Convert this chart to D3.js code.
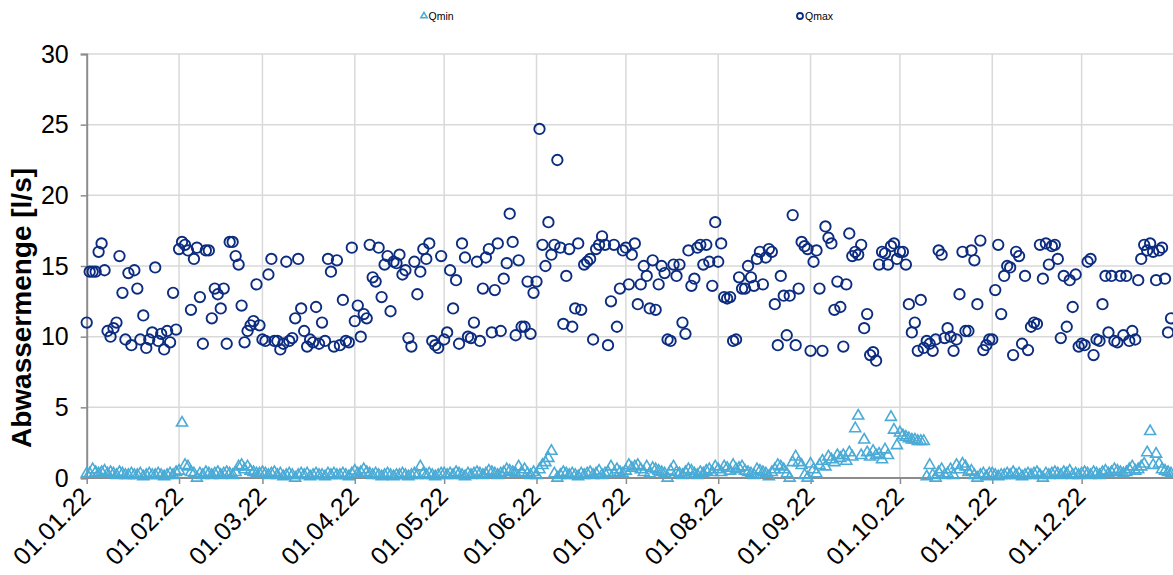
<!DOCTYPE html>
<html>
<head>
<meta charset="utf-8">
<script src="https://cdn.jsdelivr.net/npm/d3@7"></script>
<style>
  body { margin: 0; background: #fff; }
  text { font-family: "Liberation Sans", Arial, sans-serif; }
</style>
</head>
<body>
<svg id="chart" width="1173" height="575"></svg>
<script>
// daily Qmax [l/s], one array per month
const qmaxJan = [11.0,14.6,14.6,14.6,16.0,16.6,14.7,10.4,10.0,10.6,11.0,15.7,13.1,9.8,14.5,9.4,14.7,13.4,9.8,11.5,9.2,9.8,10.3,14.9,9.7,10.2,9.1,10.4,9.6,13.1,10.5]
const qmaxFeb = [16.2,16.7,16.5,16.1,11.9,15.5,16.3,12.8,9.5,16.1,16.1,11.3,13.4,13.0,12.0,13.4,9.5,16.7,16.7,15.7,15.1,12.2,9.6,10.4,10.8,11.1,13.7,10.8]
const qmaxMar = [9.8,9.7,14.4,15.5,9.7,9.7,9.1,9.5,15.3,9.7,9.9,11.3,15.5,12.0,10.4,9.3,9.8,9.6,12.1,9.5,11.0,9.7,15.5,14.6,9.3,15.4,9.4,12.6,9.7,9.6,16.3]
const qmaxApr = [11.1,12.2,10.0,11.6,11.3,16.5,14.2,13.9,16.3,12.8,15.1,15.7,11.8,15.3,15.2,15.8,14.4,14.7,9.9,9.3,15.3,13.0,14.6,16.2,15.5,16.6,9.7,9.4,9.2,15.7]
const qmaxMay = [9.8,10.3,14.7,12.0,14.0,9.5,16.6,15.6,10.0,9.9,11.0,15.3,9.7,13.4,15.6,16.2,10.3,13.3,16.6,10.4,14.1,15.2,18.7,16.7,10.1,15.4,10.7,10.7,13.9,10.2,13.1]
const qmaxJun = [13.9,24.7,16.5,15.0,18.1,15.8,16.5,22.5,16.3,10.9,14.3,16.2,10.7,12.0,16.6,11.9,15.1,15.3,15.5,9.8,16.2,16.5,17.1,16.5,9.4,12.5,16.5,10.7,13.4,16.1]
const qmaxJul = [16.3,13.7,15.8,16.6,12.3,13.7,15.0,14.3,12.0,15.4,11.9,13.7,15.0,14.5,9.8,9.7,15.1,14.3,15.1,11.0,10.2,16.1,13.6,14.1,16.3,16.5,15.1,16.5,15.3,13.6,18.1]
const qmaxAug = [15.3,16.6,12.8,12.7,12.8,9.7,9.8,14.2,13.4,13.4,15.0,14.2,13.6,15.5,16.0,13.7,15.6,16.2,16.0,12.3,9.4,14.3,12.9,10.1,12.9,18.6,9.4,13.4,16.7,16.4,16.2]
const qmaxSep = [9.0,15.3,16.1,13.4,9.0,17.8,17.0,16.6,11.9,13.9,12.1,9.3,13.7,17.3,15.7,16.0,15.8,16.5,10.6,11.6,8.7,8.9,8.3,15.1,16.0,15.9,15.1,16.4,16.6,15.5]
const qmaxOct = [16.0,16.0,15.1,12.3,10.3,11.0,9.0,12.6,9.2,9.7,9.5,9.0,9.8,16.1,15.8,9.9,10.6,10.0,9.0,9.8,13.0,16.0,10.4,10.4,16.1,15.4,12.3,16.8,9.05,9.4,9.8]
const qmaxNov = [9.8,13.3,16.5,11.6,14.3,15.0,14.9,8.7,16.0,15.7,9.5,14.3,9.05,10.7,11.0,10.9,16.5,14.1,16.6,15.1,16.4,16.5,15.5,9.9,14.3,10.7,14.0,12.1,14.4,9.3]
const qmaxDec = [9.5,9.4,15.3,15.5,8.7,9.8,9.7,12.3,14.3,10.3,14.3,9.7,9.6,14.3,10.1,14.3,9.7,10.4,9.8,14.0,15.5,16.5,16.1,16.6,16.0,14.0,16.1,16.3,14.1,10.3,11.3]

// daily Qmin [l/s], one array per month
const qminJan = [0.3,0.3,0.6,0.4,0.3,0.4,0.5,0.3,0.4,0.3,0.2,0.4,0.3,0.2,0.2,0.3,0.2,0.2,0.3,0.1,0.2,0.3,0.2,0.2,0.3,0.2,0.1,0.2,0.3,0.2,0.4]
const qminFeb = [0.5,3.9,0.9,0.8,0.4,0.3,0.0,0.3,0.2,0.4,0.3,0.2,0.3,0.4,0.2,0.3,0.4,0.3,0.2,0.4,0.8,0.9,0.6,0.8,0.5,0.4,0.3,0.3]
const qminMar = [0.4,0.3,0.2,0.3,0.4,0.2,0.3,0.1,0.2,0.3,0.2,0.0,0.2,0.3,0.2,0.3,0.1,0.2,0.3,0.2,0.2,0.1,0.3,0.2,0.3,0.2,0.2,0.3,0.2,0.1,0.3]
const qminApr = [0.5,0.3,0.4,0.6,0.4,0.3,0.2,0.3,0.2,0.1,0.2,0.3,0.2,0.1,0.2,0.2,0.3,0.2,0.1,0.2,0.3,0.2,0.8,0.3,0.2,0.3,0.2,0.1,0.2,0.3]
const qminMay = [0.3,0.2,0.3,0.2,0.4,0.3,0.2,0.1,0.3,0.2,0.3,0.4,0.3,0.2,0.3,0.5,0.4,0.3,0.2,0.3,0.4,0.6,0.5,0.4,0.3,0.8,0.4,0.6,0.3,0.2,0.4]
const qminJun = [0.2,0.6,0.9,1.1,1.4,1.9,0.3,0.0,0.2,0.4,0.3,0.2,0.3,0.2,0.1,0.3,0.2,0.3,0.4,0.2,0.3,0.5,0.2,0.3,0.4,0.8,0.3,0.6,0.4,0.3]
const qminJul = [0.5,0.9,0.7,0.8,0.9,0.6,0.4,0.8,0.3,0.7,0.6,0.5,0.4,0.3,0.0,0.5,0.8,0.4,0.3,0.2,0.4,0.6,0.5,0.3,0.2,0.4,0.3,0.5,0.6,0.4,0.8]
const qminAug = [0.6,0.4,0.8,0.7,0.5,0.9,0.6,0.7,0.8,0.5,0.4,0.3,0.2,0.6,0.5,0.4,0.3,0.1,0.4,0.6,0.9,0.8,0.6,0.3,0.0,1.1,1.5,1.1,0.9,0.2,0.0]
const qminSep = [1.0,0.6,0.3,0.9,1.2,0.8,1.5,1.3,1.1,1.6,1.4,1.6,1.2,1.8,1.5,3.5,4.4,1.6,2.7,1.8,1.5,1.9,1.6,1.7,1.3,2.0,1.6,4.3,3.4,2.3]
const qminOct = [3.2,3.0,2.9,2.8,2.7,2.7,2.6,2.6,2.6,0.1,0.9,0.2,0.0,0.4,0.6,0.2,0.3,0.6,0.2,0.9,0.6,1.0,0.8,0.4,0.5,0.2,0.0,0.2,0.3,0.1,0.3]
const qminNov = [0.3,0.2,0.1,0.2,0.2,0.3,0.2,0.4,0.2,0.3,0.1,0.2,0.3,0.2,0.3,0.4,0.2,0.0,0.3,0.2,0.3,0.4,0.3,0.2,0.4,0.3,0.5,0.2,0.3,0.2]
const qminDec = [0.3,0.4,0.3,0.2,0.4,0.3,0.2,0.4,0.5,0.3,0.4,0.6,0.5,0.4,0.3,0.4,0.6,0.8,0.5,0.6,0.8,1.0,1.8,3.3,0.9,1.7,1.0,0.6,0.5,0.4,0.3]

const yTicks = [0, 5, 10, 15, 20, 25, 30]
const yTitle = 'Abwassermenge [l/s]'
const seriesNames = ['Qmin', 'Qmax']

const qmax = [].concat(qmaxJan, qmaxFeb, qmaxMar, qmaxApr, qmaxMay, qmaxJun,
                       qmaxJul, qmaxAug, qmaxSep, qmaxOct, qmaxNov, qmaxDec)
const qmin = [].concat(qminJan, qminFeb, qminMar, qminApr, qminMay, qminJun,
                       qminJul, qminAug, qminSep, qminOct, qminNov, qminDec)

const days = d3.timeDays(new Date(2022, 0, 1), new Date(2023, 0, 1))
const months = d3.timeMonths(new Date(2022, 0, 1), new Date(2023, 0, 1))

const minColor = '#4aabd6',
      maxColor = '#0c2c80',
      gridColor = '#d9d9d9',
      axisColor = '#8c8c8c'

const plot = { left: 86.7, right: 1171, top: 54, bottom: 478 }

const x = d3.scaleTime()
    .domain([days[0], days[days.length - 1]])
    .range([plot.left, plot.right])

const y = d3.scaleLinear()
    .domain([0, 30])
    .range([plot.bottom, plot.top])

const svg = d3.select('#chart')

// grid
svg.append('g')
    .selectAll('line')
    .data(yTicks.slice(1))
    .enter().append('line')
    .attr('x1', plot.left).attr('x2', 1173)
    .attr('y1', d => y(d)).attr('y2', d => y(d))
    .attr('stroke', gridColor)
    .attr('stroke-width', 1.5)

svg.append('g')
    .selectAll('line')
    .data(months.slice(1))
    .enter().append('line')
    .attr('x1', d => x(d)).attr('x2', d => x(d))
    .attr('y1', plot.top).attr('y2', plot.bottom)
    .attr('stroke', gridColor)
    .attr('stroke-width', 1.5)

// axes
const yAxis = svg.append('g')
    .attr('transform', `translate(${plot.left},0)`)
    .call(d3.axisLeft(y).tickValues(yTicks).tickSize(6).tickPadding(12))

const xAxis = svg.append('g')
    .attr('transform', `translate(0,${plot.bottom})`)
    .call(d3.axisBottom(x).tickValues(months).tickSize(6)
        .tickFormat(d3.timeFormat('%d.%m.%y')))

xAxis.select('.domain').attr('d', `M${plot.left},0H1173`)

for (const ax of [yAxis, xAxis]) {
  ax.select('.domain').attr('stroke', axisColor).attr('stroke-width', 2)
  ax.selectAll('.tick line').attr('stroke', axisColor).attr('stroke-width', 1.5)
  ax.selectAll('.tick text')
      .attr('fill', '#000')
      .style('font-size', '25px')
}

xAxis.selectAll('.tick text')
    .attr('x', 5).attr('y', 20).attr('dy', 0)
    .attr('text-anchor', 'end')
    .attr('transform', 'rotate(-45, 5, 20)')

svg.append('text')
    .attr('transform', 'translate(31, 308) rotate(-90)')
    .attr('text-anchor', 'middle')
    .style('font-size', '28px')
    .style('font-weight', 'bold')
    .text(yTitle)

// Qmin triangles
const tri = d3.symbol(d3.symbolTriangle, 52)

svg.append('g')
    .selectAll('path')
    .data(days.map((d, i) => ({ date: d, v: qmin[i] })))
    .enter().append('path')
    .attr('d', tri)
    .attr('transform', d => `translate(${x(d.date)},${y(d.v)})`)
    .attr('fill', 'none')
    .attr('stroke', minColor)
    .attr('stroke-width', 1.6)

// Qmax circles
svg.append('g')
    .selectAll('circle')
    .data(days.map((d, i) => ({ date: d, v: qmax[i] })))
    .enter().append('circle')
    .attr('cx', d => x(d.date))
    .attr('cy', d => y(d.v))
    .attr('r', 5.2)
    .attr('fill', 'none')
    .attr('stroke', maxColor)
    .attr('stroke-width', 1.9)

// legend
const legend = svg.append('g').style('font-size', '10.5px')

legend.append('path')
    .attr('d', d3.symbol(d3.symbolTriangle, 18))
    .attr('transform', 'translate(424,16)')
    .attr('fill', 'none').attr('stroke', minColor).attr('stroke-width', 1.5)
legend.append('text').attr('x', 428.5).attr('y', 19.5).text(seriesNames[0])

legend.append('circle')
    .attr('cx', 800).attr('cy', 16).attr('r', 3)
    .attr('fill', 'none').attr('stroke', maxColor).attr('stroke-width', 1.8)
legend.append('text').attr('x', 805).attr('y', 19.5).text(seriesNames[1])
</script>
</body>
</html>
